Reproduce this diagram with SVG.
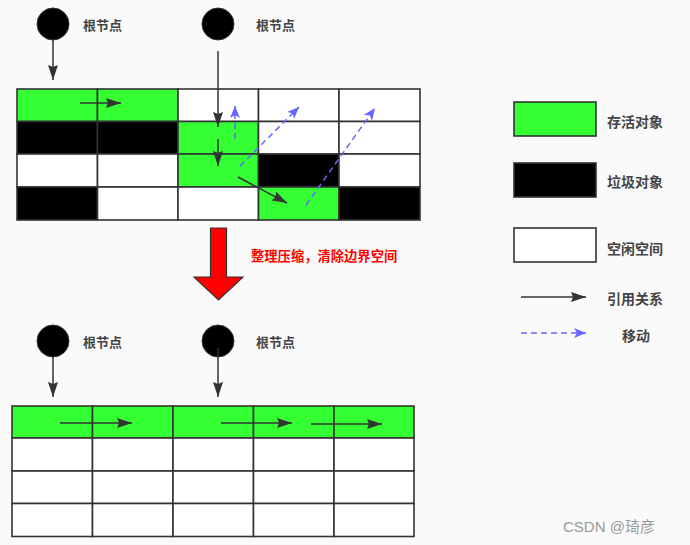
<svg xmlns="http://www.w3.org/2000/svg" width="690" height="545" viewBox="0 0 690 545">
<style>
.cell{stroke:#333;stroke-width:1.6}
.g{fill:#33ff33}.b{fill:#000}.w{fill:#fff}
.lbl{font-family:"Noto Sans CJK SC","Liberation Sans",sans-serif;font-weight:bold;font-size:13px;fill:#444}
.leg{font-family:"Noto Sans CJK SC","Liberation Sans",sans-serif;font-weight:bold;font-size:14px;fill:#444}
.ref{stroke:#333;stroke-width:1.5;fill:none;marker-end:url(#ah)}
.mv{stroke:#6666ff;stroke-width:1.5;fill:none;stroke-dasharray:6 4;marker-end:url(#bh)}
.root{fill:#000;stroke:#333;stroke-width:1}
</style>
<defs>
<marker id="ah" viewBox="0 0 15 10" refX="15" refY="5" markerWidth="15" markerHeight="10" markerUnits="userSpaceOnUse" orient="auto"><path d="M0,0 L15,5 L0,10 L2,5 z" fill="#333"/></marker>
<marker id="bh" viewBox="0 0 12 10" refX="12" refY="5" markerWidth="12" markerHeight="10" markerUnits="userSpaceOnUse" orient="auto"><path d="M0,0 L12,5 L0,10 L3,5 z" fill="#6666ff"/></marker>
</defs>
<rect width="690" height="545" fill="#fafafa"/>

<g id="top-roots">
<circle class="root" cx="53" cy="24" r="16"/>
<text class="lbl" x="83" y="30">根节点</text>
<circle class="root" cx="218" cy="24" r="16"/>
<text class="lbl" x="256" y="30">根节点</text>
</g>

<g id="top-grid">
<rect class="cell g" x="17" y="89" width="80.5" height="32.5"/>
<rect class="cell g" x="97.5" y="89" width="80.5" height="32.5"/>
<rect class="cell w" x="178" y="89" width="80.5" height="32.5"/>
<rect class="cell w" x="258.5" y="89" width="80.5" height="32.5"/>
<rect class="cell w" x="339" y="89" width="81" height="32.5"/>

<rect class="cell b" x="17" y="121.5" width="80.5" height="32.5"/>
<rect class="cell b" x="97.5" y="121.5" width="80.5" height="32.5"/>
<rect class="cell g" x="178" y="121.5" width="80.5" height="32.5"/>
<rect class="cell w" x="258.5" y="121.5" width="80.5" height="32.5"/>
<rect class="cell w" x="339" y="121.5" width="81" height="32.5"/>

<rect class="cell w" x="17" y="154" width="80.5" height="33"/>
<rect class="cell w" x="97.5" y="154" width="80.5" height="33"/>
<rect class="cell g" x="178" y="154" width="80.5" height="33"/>
<rect class="cell b" x="258.5" y="154" width="80.5" height="33"/>
<rect class="cell w" x="339" y="154" width="81" height="33"/>

<rect class="cell b" x="17" y="187" width="80.5" height="33"/>
<rect class="cell w" x="97.5" y="187" width="80.5" height="33"/>
<rect class="cell w" x="178" y="187" width="80.5" height="33"/>
<rect class="cell g" x="258.5" y="187" width="80.5" height="33"/>
<rect class="cell b" x="339" y="187" width="81" height="33"/>
</g>

<g id="top-connectors">
<line class="ref" x1="53" y1="40" x2="53" y2="80"/>
<line class="ref" x1="218" y1="51" x2="218" y2="127"/>
<line class="ref" x1="80" y1="103" x2="121" y2="103"/>
<line class="ref" x1="218" y1="139" x2="218" y2="166"/>
<line class="ref" x1="238" y1="177" x2="287" y2="203"/>
<line class="mv" x1="235" y1="139" x2="235" y2="106"/>
<line class="mv" x1="240" y1="166" x2="299" y2="107"/>
<line class="mv" x1="306" y1="205" x2="375" y2="108"/>
</g>

<g id="compress-arrow">
<path d="M210.5,228 L226.5,228 L226.5,277 L243,277 L218.5,300 L194,277 L210.5,277 Z" fill="#ff0000" stroke="#333" stroke-width="1.2"/>
<text x="251" y="261" font-family="Noto Sans CJK SC,Liberation Sans,sans-serif" font-weight="bold" font-size="13.3" fill="#ff0000">整理压缩，清除边界空间</text>
</g>

<g id="bottom-roots">
<circle class="root" cx="53" cy="341" r="16"/>
<text class="lbl" x="83" y="347">根节点</text>
<circle class="root" cx="218" cy="341" r="16"/>
<text class="lbl" x="256" y="347">根节点</text>
</g>

<g id="bottom-grid">
<rect class="cell g" x="12" y="406" width="80.5" height="32"/>
<rect class="cell g" x="92.5" y="406" width="80.5" height="32"/>
<rect class="cell g" x="173" y="406" width="80.5" height="32"/>
<rect class="cell g" x="253.5" y="406" width="80.5" height="32"/>
<rect class="cell g" x="334" y="406" width="80" height="32"/>
<rect class="cell w" x="12" y="438" width="80.5" height="33"/>
<rect class="cell w" x="92.5" y="438" width="80.5" height="33"/>
<rect class="cell w" x="173" y="438" width="80.5" height="33"/>
<rect class="cell w" x="253.5" y="438" width="80.5" height="33"/>
<rect class="cell w" x="334" y="438" width="80" height="33"/>
<rect class="cell w" x="12" y="471" width="80.5" height="32.5"/>
<rect class="cell w" x="92.5" y="471" width="80.5" height="32.5"/>
<rect class="cell w" x="173" y="471" width="80.5" height="32.5"/>
<rect class="cell w" x="253.5" y="471" width="80.5" height="32.5"/>
<rect class="cell w" x="334" y="471" width="80" height="32.5"/>
<rect class="cell w" x="12" y="503.5" width="80.5" height="33"/>
<rect class="cell w" x="92.5" y="503.5" width="80.5" height="33"/>
<rect class="cell w" x="173" y="503.5" width="80.5" height="33"/>
<rect class="cell w" x="253.5" y="503.5" width="80.5" height="33"/>
<rect class="cell w" x="334" y="503.5" width="80" height="33"/>
</g>

<g id="bottom-connectors">
<line class="ref" x1="53" y1="357" x2="53" y2="397"/>
<line class="ref" x1="218" y1="348" x2="218" y2="397"/>
<line class="ref" x1="60" y1="423" x2="132" y2="423"/>
<line class="ref" x1="221" y1="423" x2="292" y2="423"/>
<line class="ref" x1="311" y1="424" x2="382" y2="424"/>
</g>

<g id="legend">
<rect class="cell g" x="514" y="102" width="82" height="34"/>
<text class="leg" x="607" y="127">存活对象</text>
<rect class="cell b" x="514" y="163" width="82" height="34"/>
<text class="leg" x="607" y="187">垃圾对象</text>
<rect class="cell w" x="514" y="228" width="82" height="34"/>
<text class="leg" x="607" y="254">空闲空间</text>
<line class="ref" x1="521" y1="297" x2="586" y2="297"/>
<text class="leg" x="607" y="304">引用关系</text>
<line class="mv" x1="521" y1="333" x2="586" y2="333"/>
<text class="leg" x="622" y="341">移动</text>
</g>

<text x="563" y="532" font-family="Liberation Sans,Noto Sans CJK SC,sans-serif" font-size="15" fill="#999">CSDN @琦彦</text>
</svg>
